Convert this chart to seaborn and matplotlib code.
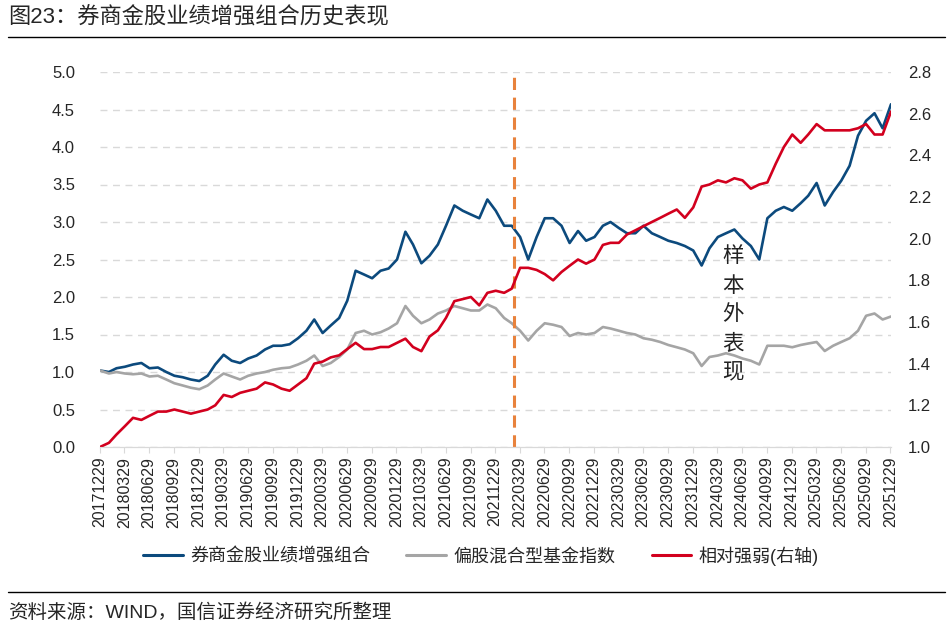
import pandas as pd
import matplotlib.pyplot as plt
from matplotlib.lines import Line2D
import seaborn as sns

# month-end points, 2017-12 .. 2025-12
dates = ["2017-12-29"] + [d.strftime("%Y-%m-%d") for d in pd.date_range("2018-01-31", "2025-12-31", freq="ME")]

combo = [1.02, 1.00, 1.05, 1.07, 1.10, 1.12, 1.05, 1.06, 1.00, 0.95, 0.93, 0.90,
         0.88, 0.95, 1.10, 1.23, 1.15, 1.12, 1.18, 1.22, 1.30, 1.35, 1.35, 1.37,
         1.45, 1.55, 1.70, 1.52, 1.62, 1.72, 1.95, 2.35, 2.30, 2.25, 2.35, 2.38,
         2.50, 2.87, 2.70, 2.45, 2.55, 2.70, 2.95, 3.22, 3.15, 3.10, 3.05, 3.30,
         3.15, 2.95, 2.95, 2.80, 2.50, 2.80, 3.05, 3.05, 2.95, 2.72, 2.88, 2.75,
         2.80, 2.95, 3.00, 2.92, 2.85, 2.85, 2.95, 2.85, 2.80, 2.75, 2.72, 2.68,
         2.62, 2.42, 2.65, 2.80, 2.85, 2.90, 2.78, 2.68, 2.50, 3.05, 3.15, 3.20,
         3.15, 3.25, 3.35, 3.52, 3.22, 3.40, 3.55, 3.75, 4.15, 4.35, 4.45, 4.25,
         4.57]

fund_index = [1.02, 0.98, 1.00, 0.98, 0.97, 0.98, 0.94, 0.95, 0.90, 0.85, 0.82, 0.79,
              0.77, 0.82, 0.90, 0.98, 0.94, 0.90, 0.95, 0.98, 1.00, 1.03, 1.05, 1.06,
              1.10, 1.15, 1.22, 1.08, 1.12, 1.20, 1.30, 1.52, 1.55, 1.50, 1.53, 1.58,
              1.65, 1.88, 1.75, 1.65, 1.70, 1.78, 1.82, 1.88, 1.85, 1.82, 1.82, 1.90,
              1.85, 1.72, 1.65, 1.55, 1.42, 1.55, 1.65, 1.63, 1.60, 1.48, 1.52, 1.50,
              1.52, 1.60, 1.58, 1.55, 1.52, 1.50, 1.45, 1.43, 1.40, 1.36, 1.33, 1.30,
              1.25, 1.08, 1.20, 1.22, 1.25, 1.22, 1.18, 1.15, 1.10, 1.35, 1.35, 1.35,
              1.33, 1.36, 1.38, 1.40, 1.28, 1.35, 1.40, 1.45, 1.55, 1.75, 1.78, 1.70,
              1.74]

relative = [1.00, 1.02, 1.06, 1.10, 1.14, 1.13, 1.15, 1.17, 1.17, 1.18, 1.17, 1.16,
            1.17, 1.18, 1.20, 1.25, 1.24, 1.26, 1.27, 1.28, 1.31, 1.30, 1.28, 1.27,
            1.30, 1.33, 1.40, 1.41, 1.43, 1.44, 1.47, 1.50, 1.47, 1.47, 1.48, 1.48,
            1.50, 1.52, 1.48, 1.46, 1.53, 1.56, 1.62, 1.70, 1.71, 1.72, 1.68, 1.74,
            1.75, 1.74, 1.76, 1.86, 1.86, 1.85, 1.83, 1.80, 1.84, 1.87, 1.90, 1.88,
            1.90, 1.97, 1.98, 1.98, 2.02, 2.04, 2.06, 2.08, 2.10, 2.12, 2.14, 2.10,
            2.15, 2.25, 2.26, 2.28, 2.27, 2.29, 2.28, 2.24, 2.26, 2.27, 2.36, 2.44,
            2.50, 2.46, 2.50, 2.55, 2.52, 2.52, 2.52, 2.52, 2.53, 2.55, 2.50, 2.50,
            2.61]

tick_labels = ["20171229", "20180329", "20180629", "20180929", "20181229", "20190329",
               "20190629", "20190929", "20191229", "20200329", "20200629", "20200929",
               "20201229", "20210329", "20210629", "20210929", "20211229", "20220329",
               "20220629", "20220929", "20221229", "20230329", "20230629", "20230929",
               "20231229", "20240329", "20240629", "20240929", "20241229", "20250329",
               "20250629", "20250929", "20251229"]
split_date = "2022-03-07"

df = pd.DataFrame({"date": pd.to_datetime(dates), "combo": combo,
                   "fund": fund_index, "rel": relative})

sns.set_style("white")
plt.rcParams["font.family"] = ["Liberation Sans", "Noto Sans CJK SC"]

BLUE, GRAY, RED, ORANGE = "#0C4A7D", "#A5A5A5", "#D2001E", "#E8823C"

fig = plt.figure(figsize=(9.49, 6.31), dpi=100)
ax = fig.add_axes([100/949, 1-447/631, 791/949, 375/631])
ax2 = ax.twinx()

sns.lineplot(data=df, x="date", y="combo", ax=ax, color=BLUE, lw=1.9)
sns.lineplot(data=df, x="date", y="fund", ax=ax, color=GRAY, lw=1.9)
sns.lineplot(data=df, x="date", y="rel", ax=ax2, color=RED, lw=1.9)

ax.axvline(pd.Timestamp(split_date), color=ORANGE, lw=2.2, ls=(0, (4, 2.5)), ymax=0.99)

ax.set_ylim(0, 5.0)
ax.set_yticks([i * 0.5 for i in range(11)])
ax.set_yticklabels([f"{i * 0.5:.1f}" for i in range(11)])
ax2.set_ylim(1.0, 2.8)
ax2.set_yticks([1.0 + i * 0.2 for i in range(10)])
ax2.set_yticklabels([f"{1.0 + i * 0.2:.1f}" for i in range(10)])

ticks = pd.to_datetime(tick_labels, format="%Y%m%d")
ax.set_xlim(pd.Timestamp("2017-12-29"), pd.Timestamp("2025-12-31"))
ax.set_xticks(ticks)
ax.set_xticklabels(tick_labels, rotation=90)

ax.grid(axis="y", color="#D9D9D9", ls=(0, (5, 4)), lw=1)
ax.set_axisbelow(True)
for a in (ax, ax2):
    for s in ("top", "left", "right"):
        a.spines[s].set_visible(False)
    a.spines["bottom"].set_color("#D9D9D9")
    a.set_xlabel("")
    a.set_ylabel("")
ax.tick_params(axis="y", length=0, pad=18, labelsize=12)
ax2.tick_params(axis="y", length=0, pad=12, labelsize=12)
ax.tick_params(axis="x", length=4, color="#D9D9D9", labelsize=11.5, pad=3, direction="out")
ax.xaxis.set_tick_params(bottom=True)

ax.text(pd.Timestamp("2024-05-25"), 1.76, "\n".join("样本外表现"), fontsize=15.5,
        ha="center", va="center", linespacing=1.5, color="#222222")

handles = [Line2D([], [], color=BLUE, lw=2.2), Line2D([], [], color=GRAY, lw=2.2),
           Line2D([], [], color=RED, lw=2.2)]
fig.legend(handles, ["券商金股业绩增强组合", "偏股混合型基金指数", "相对强弱(右轴)"],
           loc="center", bbox_to_anchor=(481/949, 1-556/631), ncol=3, frameon=False,
           fontsize=13, handlelength=2.2, columnspacing=2.0, handletextpad=0.4)

fig.text(8/949, 1-18/631, "图23：券商金股业绩增强组合历史表现", fontsize=16, va="center")
fig.add_artist(Line2D([8/949, 945/949], [1-37/631, 1-37/631], color="black", lw=1))
fig.add_artist(Line2D([8/949, 945/949], [1-592/631, 1-592/631], color="black", lw=1))
fig.text(8/949, 1-613/631, "资料来源：WIND，国信证券经济研究所整理", fontsize=14, va="center")

fig.savefig("out.png", dpi=100)
